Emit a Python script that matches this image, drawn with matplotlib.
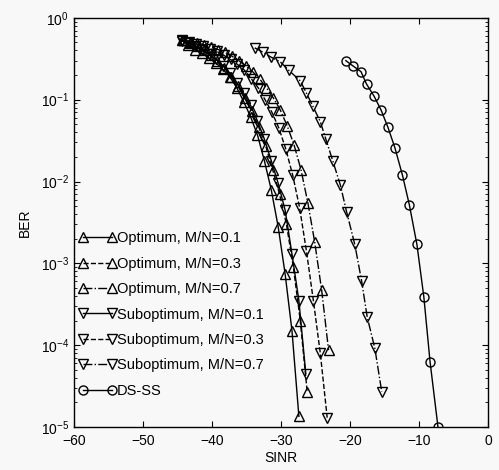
import matplotlib
matplotlib.use("Agg")
import matplotlib.pyplot as plt
from matplotlib.ticker import LogLocator, NullFormatter, FixedLocator

plt.rcParams['font.family'] = ['Liberation Sans', 'DejaVu Sans']
plt.rcParams['mathtext.fontset'] = 'custom'
plt.rcParams['mathtext.rm'] = 'Liberation Sans'
plt.rcParams['mathtext.it'] = 'Liberation Sans'

# ---- data ----
opt01_x = [-44.4, -43.4, -42.4, -41.4, -40.4, -39.4, -38.4, -37.4, -36.4, -35.4,
           -34.4, -33.4, -32.4, -31.4, -30.4, -29.4, -28.4, -27.4]
opt01_y = [0.53, 0.47, 0.41, 0.37, 0.32, 0.28, 0.235, 0.19, 0.14, 0.095,
           0.062, 0.037, 0.018, 7.9e-3, 2.8e-3, 7.5e-4, 1.5e-4, 1.35e-5]

opt03_x = [-44.2, -43.2, -42.2, -41.2, -40.2, -39.2, -38.2, -37.2, -36.2, -35.2,
           -34.2, -33.2, -32.2, -31.2, -30.2, -29.2, -28.2, -27.2, -26.2]
opt03_y = [0.53, 0.49, 0.45, 0.40, 0.35, 0.30, 0.245, 0.19, 0.145, 0.105,
           0.072, 0.046, 0.027, 0.014, 7e-3, 3.0e-3, 9e-4, 2.0e-4, 2.7e-5]

opt07_x = [-44.1, -43.1, -42.1, -41.1, -40.1, -39.1, -38.1, -37.1, -36.1, -35.1,
           -34.1, -33.1, -32.1, -31.1, -30.1, -29.1, -28.1, -27.1, -26.1, -25.1,
           -24.1, -23.1]
opt07_y = [0.53, 0.51, 0.49, 0.47, 0.44, 0.41, 0.38, 0.34, 0.30, 0.26,
           0.22, 0.18, 0.14, 0.105, 0.075, 0.048, 0.028, 0.014, 5.5e-3, 1.8e-3,
           4.7e-4, 8.7e-5]

sub01_x = [-44.4, -43.4, -42.4, -41.4, -40.4, -39.4, -38.4, -37.4, -36.4, -35.4,
           -34.4, -33.4, -32.4, -31.4, -30.4, -29.4, -28.4, -27.4, -26.4]
sub01_y = [0.53, 0.49, 0.45, 0.41, 0.36, 0.31, 0.26, 0.21, 0.16, 0.12,
           0.085, 0.055, 0.033, 0.018, 9.5e-3, 4.5e-3, 1.3e-3, 3.5e-4, 4.5e-5]

sub03_x = [-44.3, -43.3, -42.3, -41.3, -40.3, -39.3, -38.3, -37.3, -36.3, -35.3,
           -34.3, -33.3, -32.3, -31.3, -30.3, -29.3, -28.3, -27.3, -26.3, -25.3,
           -24.3, -23.3]
sub03_y = [0.52, 0.50, 0.48, 0.45, 0.42, 0.39, 0.35, 0.31, 0.27, 0.23,
           0.18, 0.14, 0.10, 0.07, 0.045, 0.025, 0.012, 4.8e-3, 1.4e-3, 3.5e-4,
           8e-5, 1.3e-5]

sub07_x = [-33.8, -32.6, -31.4, -30.1, -28.9, -27.2, -26.3, -25.4, -24.3, -23.5,
           -22.5, -21.4, -20.5, -19.3, -18.3, -17.5, -16.4, -15.4]
sub07_y = [0.43, 0.38, 0.33, 0.29, 0.23, 0.17, 0.12, 0.084, 0.054, 0.033,
           0.018, 9.1e-3, 4.3e-3, 1.7e-3, 6e-4, 2.2e-4, 9.2e-5, 2.7e-5]

dsss_x = [-20.6, -19.6, -18.4, -17.6, -16.5, -15.5, -14.5, -13.5, -12.4, -11.4,
          -10.3, -9.3, -8.4, -7.25]
dsss_y = [0.30, 0.26, 0.22, 0.155, 0.11, 0.075, 0.046, 0.026, 0.012, 5.2e-3,
          1.7e-3, 3.9e-4, 6.3e-5, 1.0e-5]

labels = ['Optimum, M/N=0.1', 'Optimum, M/N=0.3', 'Optimum, M/N=0.7',
          'Suboptimum, M/N=0.1', 'Suboptimum, M/N=0.3', 'Suboptimum, M/N=0.7',
          'DS-SS']

xticks = [-60, -50, -40, -30, -20, -10, 0]

# ---- figure ----
bg = '#f8f8f8'
fig = plt.figure(figsize=(4.99, 4.70), dpi=100, facecolor=bg)
ax = fig.add_axes([0.148, 0.0915, 0.83, 0.8705], facecolor=bg)

series = [
    (opt01_x, opt01_y, '-', '^'),
    (opt03_x, opt03_y, '--', '^'),
    (opt07_x, opt07_y, '-.', '^'),
    (sub01_x, sub01_y, '-', 'v'),
    (sub03_x, sub03_y, '--', 'v'),
    (sub07_x, sub07_y, '-.', 'v'),
    (dsss_x, dsss_y, '-', 'o'),
]
for (x, y, ls, m), lab in zip(series, labels):
    ax.semilogy(x, y, color='black', linestyle=ls, marker=m, markersize=6.5,
                markerfacecolor='none', markeredgecolor='black',
                markeredgewidth=1.0, linewidth=1.0, label=lab)

ax.set_xlim(-60, 0)
ax.set_ylim(1e-5, 1)
ax.xaxis.set_major_locator(FixedLocator(xticks))
ax.set_xticklabels(['\u2212%d' % -t if t < 0 else '%d' % t for t in xticks])
ax.yaxis.set_major_locator(LogLocator(base=10, numticks=10))
ax.yaxis.set_minor_locator(LogLocator(base=10, subs=range(2, 10), numticks=10))
ax.yaxis.set_minor_formatter(NullFormatter())
ax.tick_params(which='both', direction='in', top=True, right=True,
               labelsize=10, colors='black')
ax.tick_params(which='major', length=4, width=0.8)
ax.tick_params(which='minor', length=2, width=0.6)
ax.tick_params(axis='x', pad=5)
for s in ax.spines.values():
    s.set_linewidth(1.0)

ax.set_xlabel('SINR', fontsize=10, labelpad=2)
ax.set_ylabel('BER', fontsize=10, labelpad=6)

leg = ax.legend(loc='upper left', bbox_to_anchor=(0.012, 0.478), frameon=False,
                fontsize=10.5, numpoints=2, handlelength=2.6,
                handletextpad=0.0, labelspacing=0.78, borderaxespad=0.0,
                borderpad=0.0)

fig.savefig('out.png', dpi=100, facecolor=bg)
